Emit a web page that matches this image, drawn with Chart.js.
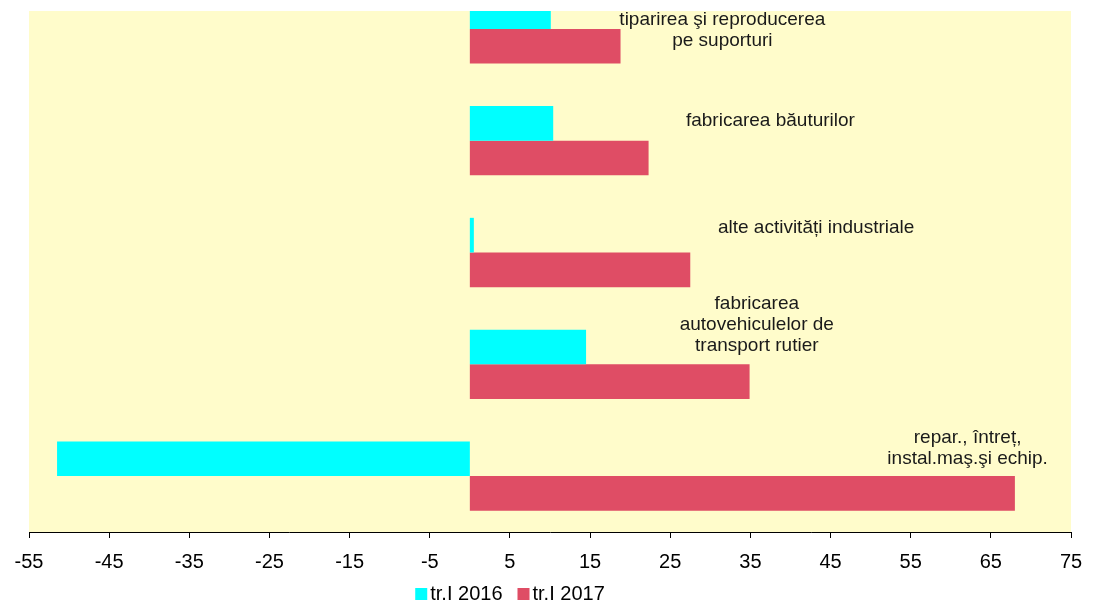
<!DOCTYPE html>
<html>
<head>
<meta charset="utf-8">
<script src="https://cdn.jsdelivr.net/npm/chart.js@4/dist/chart.umd.min.js"></script>
<style>
    body { margin: 0; background: #ffffff; }
    #marco { position: absolute; left: 0; top: 11px; width: 1097px; height: 589px; overflow: hidden; }
    #grafico { display: block; margin-top: -38px; }
</style>
</head>
<body>
<div id="marco"><canvas id="grafico" width="1097" height="640"></canvas></div>
<script>
// Datos
const categorias = [
    ['tiparirea şi reproducerea', 'pe suporturi'],
    ['fabricarea băuturilor'],
    ['alte activități industriale'],
    ['fabricarea', 'autovehiculelor de', 'transport rutier'],
    ['repar., întreț,', 'instal.maş.şi echip.']
];
const serie2016 = [10.1, 10.4, 0.5, 14.5, -51.5];
const serie2017 = [18.8, 22.3, 27.5, 34.9, 68.0];
const ejeMin = -55;
const ejeMax = 75;
const ejePaso = 10;

// Dónde va cada etiqueta (x en unidades del eje, dy en px respecto al centro de la categoría)
const posEtiquetas = [
    { x: 31.5, dy: 1 },
    { x: 37.5, dy: -20 },
    { x: 43.2, dy: -25 },
    { x: 35.8, dy: -40 },
    { x: 62.1, dy: -28 }
];

const fuente = "'Liberation Sans', Arial, sans-serif";

// Fondo amarillo del área del gráfico
const fondoPlugin = {
    id: 'fondo',
    beforeDraw(chart) {
        const { ctx, chartArea } = chart;
        ctx.save();
        ctx.fillStyle = '#fffccb';
        ctx.fillRect(chartArea.left, chartArea.top, chartArea.right - chartArea.left, chartArea.bottom - chartArea.top);
        ctx.restore();
    }
};

// Nombres de categoría dentro del área
const etiquetasPlugin = {
    id: 'etiquetas',
    afterDatasetsDraw(chart) {
        const { ctx, scales } = chart;
        ctx.save();
        ctx.font = `19px ${fuente}`;
        ctx.fillStyle = '#1a1a1a';
        ctx.textAlign = 'center';
        ctx.textBaseline = 'middle';
        categorias.forEach((lineas, i) => {
            const p = posEtiquetas[i];
            const x = scales.x.getPixelForValue(p.x);
            const yc = scales.y.getPixelForValue(i) + p.dy;
            const alto = 21;
            lineas.forEach((t, j) => {
                ctx.fillText(t, x, yc + (j - (lineas.length - 1) / 2) * alto);
            });
        });
        ctx.restore();
    }
};

// Leyenda propia (cuadro pegado al texto, centrada algo a la izquierda como en el original)
const leyendaPlugin = {
    id: 'leyenda',
    afterDraw(chart) {
        const { ctx, chartArea } = chart;
        const centroX = 510;
        const y = chartArea.bottom + 62;
        const caja = 12, hueco = 3, separacion = 15;
        ctx.save();
        ctx.font = `20px ${fuente}`;
        ctx.textBaseline = 'middle';
        ctx.textAlign = 'left';
        const items = chart.data.datasets.map(d => ({
            texto: d.label,
            color: d.backgroundColor,
            ancho: ctx.measureText(d.label).width
        }));
        const total = items.reduce((a, it) => a + caja + hueco + it.ancho, 0) + separacion * (items.length - 1);
        let x = centroX - total / 2;
        items.forEach(it => {
            ctx.fillStyle = it.color;
            ctx.fillRect(x, y - caja / 2, caja, caja);
            ctx.fillStyle = '#000';
            ctx.fillText(it.texto, x + caja + hueco, y);
            x += caja + hueco + it.ancho + separacion;
        });
        ctx.restore();
    }
};

new Chart(document.getElementById('grafico').getContext('2d'), {
    type: 'bar',
    data: {
        labels: categorias.map(c => c.join(' ')),
        datasets: [
            {
                label: 'tr.I 2016',
                data: serie2016,
                backgroundColor: '#00ffff',
                borderWidth: 0
            },
            {
                label: 'tr.I 2017',
                data: serie2017,
                backgroundColor: '#df4d65',
                borderWidth: 0
            }
        ]
    },
    options: {
        indexAxis: 'y',
        responsive: false,
        animation: false,
        layout: { padding: { left: 29, right: 26, top: 0, bottom: 27 } },
        datasets: {
            bar: { categoryPercentage: 0.62, barPercentage: 1 }
        },
        plugins: {
            legend: { display: false },
            tooltip: { enabled: false }
        },
        scales: {
            x: {
                type: 'linear',
                min: ejeMin,
                max: ejeMax,
                ticks: {
                    stepSize: ejePaso,
                    color: '#000',
                    padding: 12,
                    font: { family: fuente, size: 20 },
                    maxRotation: 0
                },
                grid: { drawOnChartArea: false, tickLength: 6, color: '#000' },
                border: { color: '#000', width: 1 }
            },
            y: {
                display: false
            }
        }
    },
    plugins: [fondoPlugin, etiquetasPlugin, leyendaPlugin]
});
</script>
</body>
</html>
